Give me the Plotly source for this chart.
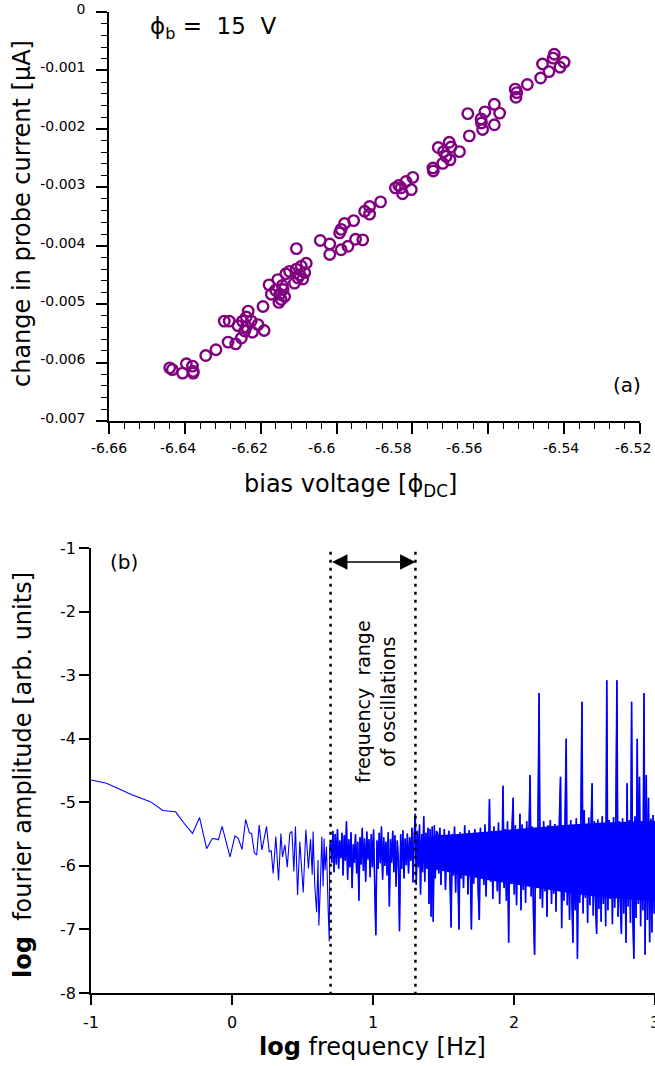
import plotly.graph_objects as go

# ---------------- panel (a) data ----------------
bias_voltage = [
    -6.5426, -6.5429, -6.5400, -6.5457, -6.5411, -6.5440, -6.5462, -6.5497, -6.5529, -6.5525,
    -6.5527, -6.5584, -6.5609, -6.5570, -6.5654, -6.5619, -6.5618, -6.5584, -6.5615, -6.5650,
    -6.5732, -6.5703, -6.5698, -6.5676, -6.5718, -6.5711, -6.5701, -6.5720, -6.5746, -6.5745,
    -6.5799, -6.5817, -6.5836, -6.5845, -6.5830, -6.5803, -6.5826, -6.5884, -6.5913, -6.5926,
    -6.5913, -6.5955, -6.5979, -6.5988, -6.5992, -6.6043, -6.6018, -6.5950, -6.5931, -6.5970,
    -6.5988, -6.6018, -6.6106, -6.6080, -6.6093, -6.6106, -6.6124, -6.6084, -6.6134, -6.6097,
    -6.6102, -6.6089, -6.6111, -6.6155, -6.6143, -6.6178, -6.6161, -6.6141, -6.6172, -6.6150,
    -6.6137, -6.6146, -6.6152, -6.6194, -6.6233, -6.6238, -6.6296, -6.6283, -6.6248, -6.6225,
    -6.6260, -6.6238, -6.6207, -6.6191, -6.6242, -6.6222, -6.6251, -6.6286, -6.6266, -6.6318,
    -6.6345, -6.6380, -6.6396, -6.6406, -6.6378, -6.6433, -6.6440, -6.6378,
]
probe_current = [
    -0.000723, -0.000790, -0.000860, -0.000890, -0.000945, -0.001020, -0.001130, -0.001240, -0.001320, -0.001380,
    -0.001460, -0.001580, -0.001710, -0.001730, -0.001740, -0.001830, -0.001900, -0.001930, -0.002010, -0.002120,
    -0.002320, -0.002230, -0.002310, -0.002390, -0.002390, -0.002470, -0.002530, -0.002590, -0.002670, -0.002720,
    -0.002830, -0.002900, -0.002970, -0.003010, -0.003010, -0.003040, -0.003110, -0.003250, -0.003330, -0.003410,
    -0.003460, -0.003570, -0.003620, -0.003720, -0.003780, -0.003910, -0.003970, -0.003890, -0.003900, -0.004010,
    -0.004070, -0.004150, -0.004050, -0.004300, -0.004350, -0.004400, -0.004440, -0.004460, -0.004480, -0.004500,
    -0.004550, -0.004570, -0.004640, -0.004580, -0.004680, -0.004670, -0.004760, -0.004750, -0.004830, -0.004830,
    -0.004870, -0.004920, -0.004970, -0.005040, -0.005120, -0.005220, -0.005290, -0.005290, -0.005290, -0.005290,
    -0.005370, -0.005390, -0.005350, -0.005450, -0.005460, -0.005480, -0.005580, -0.005650, -0.005680, -0.005780,
    -0.005880, -0.006060, -0.006020, -0.006180, -0.006150, -0.006120, -0.006090, -0.006180,
]
a_xticks = [-6.66, -6.64, -6.62, -6.60, -6.58, -6.56, -6.54, -6.52]
# where the original figure actually printed each x tick label
a_xlabel_pos = [-6.6600, -6.6418, -6.6229, -6.6039, -6.5850, -6.5663, -6.5408, -6.5218]
a_xlabels = ["-6.66", "-6.64", "-6.62", "-6.6", "-6.58", "-6.56", "-6.54", "-6.52"]
a_yticks = [0, -0.001, -0.002, -0.003, -0.004, -0.005, -0.006, -0.007]
a_ylabels = ["0", "-0.001", "-0.002", "-0.003", "-0.004", "-0.005", "-0.006", "-0.007"]

# ---------------- panel (b) data ----------------
log_freq_low = [
    -1.0, -0.89, -0.71, -0.58, -0.49, -0.40, -0.34, -0.28, -0.23, -0.18,
    -0.14, -0.11, -0.097, -0.07, -0.014, 0.021, 0.045, 0.071, 0.097, 0.123,
    0.139, 0.158, 0.175, 0.193, 0.212, 0.226, 0.245, 0.264, 0.278, 0.292,
    0.311, 0.33, 0.347, 0.358, 0.375, 0.392, 0.41, 0.425, 0.439, 0.45,
    0.465, 0.481, 0.505, 0.524, 0.542, 0.557, 0.569, 0.575, 0.587, 0.6,
    0.61, 0.616, 0.627, 0.637, 0.646, 0.653, 0.66, 0.67, 0.682, 0.69, 0.693,
]
log_amp_low = [
    -4.65, -4.70, -4.88, -4.99, -5.13, -5.15, -5.33, -5.49, -5.24, -5.73,
    -5.57, -5.58, -5.59, -5.38, -5.86, -5.53, -5.57, -5.74, -5.27, -5.48,
    -5.49, -5.79, -5.83, -5.36, -5.75, -5.59, -5.38, -5.78, -5.76, -6.12,
    -5.54, -6.23, -5.49, -5.86, -5.67, -6.02, -5.49, -5.46, -6.09, -5.38,
    -6.46, -5.62, -6.42, -5.43, -6.04, -5.58, -6.14, -5.46, -6.31, -6.73,
    -5.91, -6.94, -6.28, -5.54, -6.32, -5.57, -6.07, -5.70, -6.70, -7.19, -5.67,
]
log_freq_mid = [
    0.700, 0.708, 0.716, 0.724, 0.732, 0.740, 0.748, 0.756, 0.764, 0.772,
    0.780, 0.788, 0.796, 0.804, 0.812, 0.820, 0.828, 0.836, 0.844, 0.852,
    0.860, 0.868, 0.876, 0.884, 0.892, 0.900, 0.908, 0.916, 0.924, 0.932,
    0.940, 0.948, 0.956, 0.964, 0.972, 0.980, 0.988, 0.996, 1.004, 1.012,
    1.020, 1.028, 1.036, 1.044, 1.052, 1.060, 1.068, 1.076, 1.084, 1.092,
    1.100, 1.108, 1.116, 1.124, 1.132, 1.140, 1.148, 1.156, 1.164, 1.172,
    1.180, 1.188, 1.196, 1.204, 1.212, 1.220, 1.228, 1.236, 1.244, 1.252,
    1.260, 1.268, 1.276, 1.284, 1.292, 1.300,
    1.307, 1.315, 1.322, 1.330, 1.337, 1.345, 1.352, 1.360, 1.367, 1.375,
    1.382, 1.390, 1.397, 1.405, 1.412, 1.420, 1.427, 1.435, 1.442, 1.450,
]
log_amp_mid = [
    -5.62, -5.95, -5.45, -6.10, -5.50, -5.98, -5.42, -6.05, -5.60, -5.88,
    -5.48, -6.15, -5.52, -5.92, -5.30, -6.22, -5.58, -6.02, -5.47, -6.35,
    -5.66, -5.95, -5.50, -6.12, -5.62, -6.55, -5.55, -5.98, -5.40, -6.08,
    -5.57, -6.25, -5.46, -5.90, -5.58, -6.18, -5.50, -6.02, -5.43, -6.30,
    -7.09, -5.60, -6.05, -5.48, -5.96, -5.38, -6.22, -5.55, -6.00, -5.62,
    -6.15, -5.47, -6.64, -5.58, -5.95, -5.45, -6.10, -5.52, -6.33, -5.60,
    -5.92, -7.03, -5.50, -6.05, -5.44, -6.20, -5.57, -5.99, -5.49, -6.12,
    -5.55, -5.92, -5.40, -6.26, -5.52, -5.18,
    -6.30, -5.45, -6.02, -5.35, -6.45, -5.50, -6.10, -5.22, -6.25, -5.48,
    -6.05, -5.40, -6.60, -5.42, -6.80, -5.38, -6.88, -5.36, -6.20, -5.45,
]
log_freq_high = [
    1.458, 1.466, 1.474, 1.482, 1.490, 1.498, 1.506, 1.514, 1.522, 1.530,
    1.538, 1.546, 1.554, 1.562, 1.570, 1.578, 1.586, 1.594, 1.602, 1.610,
    1.618, 1.626, 1.634, 1.642, 1.650, 1.658, 1.666, 1.674, 1.682, 1.690,
    1.698, 1.706, 1.714, 1.722, 1.730, 1.738, 1.746, 1.754, 1.762, 1.770,
    1.778, 1.786, 1.794, 1.802, 1.810, 1.818, 1.826, 1.834, 1.842, 1.850,
    1.858, 1.866, 1.874, 1.882, 1.890, 1.898, 1.906, 1.914, 1.922, 1.930,
    1.938, 1.946, 1.954, 1.962, 1.970, 1.978, 1.986, 1.994, 2.002, 2.010,
    2.018, 2.026, 2.034, 2.042, 2.050, 2.058, 2.066, 2.074, 2.082, 2.090,
    2.098, 2.106, 2.114, 2.122, 2.130, 2.138, 2.146, 2.154, 2.162, 2.170,
    2.178, 2.186, 2.194, 2.202, 2.210, 2.218, 2.226, 2.234, 2.242, 2.250,
    2.258, 2.266, 2.274, 2.282, 2.290, 2.298, 2.306, 2.314, 2.322, 2.330,
    2.338, 2.346, 2.354, 2.362, 2.370, 2.378, 2.386, 2.394, 2.402, 2.410,
    2.418, 2.426, 2.434, 2.442, 2.450, 2.458, 2.466, 2.474, 2.482, 2.490,
    2.498, 2.506, 2.514, 2.522, 2.530, 2.538, 2.546, 2.554, 2.562, 2.570,
    2.578, 2.586, 2.594, 2.602, 2.610, 2.618, 2.626, 2.634, 2.642, 2.650,
    2.658, 2.666, 2.674, 2.682, 2.690, 2.698, 2.706, 2.714, 2.722, 2.730,
    2.738, 2.746, 2.754, 2.762, 2.770, 2.778, 2.786, 2.794, 2.802, 2.810,
    2.818, 2.826, 2.834, 2.842, 2.850, 2.858, 2.866, 2.874, 2.882, 2.890,
    2.898, 2.906, 2.914, 2.922, 2.930, 2.938, 2.946, 2.954, 2.962, 2.970,
    2.978, 2.986, 2.994, 3.002,
]
log_amp_high = [
    -5.48, -6.12, -5.40, -6.30, -5.55, -6.05, -5.42, -6.38, -5.60, -5.98,
    -5.45, -6.22, -6.97, -5.50, -6.15, -5.38, -6.42, -5.52, -6.08, -7.00,
    -5.47, -6.20, -5.58, -6.35, -5.36, -6.10, -5.62, -6.45, -5.44, -6.02,
    -7.00, -5.50, -6.28, -5.42, -6.12, -5.55, -6.40, -6.85, -5.40, -6.18,
    -5.50, -6.30, -5.35, -6.48, -5.58, -6.05, -4.95, -6.25, -5.45, -6.52,
    -5.38, -6.20, -5.55, -6.40, -5.32, -6.60, -5.48, -6.15, -4.74, -6.35,
    -5.42, -6.55, -5.30, -7.21, -5.52, -6.28, -5.40, -4.93, -6.45, -5.36,
    -6.62, -5.50, -6.20, -5.18, -6.70, -5.35, -6.38, -5.46, -6.58, -5.30,
    -6.30, -5.55, -4.57, -6.48, -5.38, -6.75, -7.40, -5.42, -6.35, -5.33,
    -3.28, -6.52, -5.48, -6.66, -5.30, -6.40, -5.45, -6.80, -5.36, -6.25,
    -5.28, -6.60, -5.50, -6.44, -5.34, -6.72, -5.42, -6.35, -5.27, -4.60,
    -6.98, -5.40, -6.55, -5.32, -4.00, -6.62, -5.38, -6.85, -5.28, -6.48,
    -7.21, -5.36, -6.70, -5.25, -7.46, -5.45, -6.58, -5.30, -3.42, -6.75,
    -5.12, -6.50, -5.35, -6.90, -5.24, -6.62, -5.40, -4.70, -6.78, -5.30,
    -6.55, -7.07, -5.27, -6.68, -5.38, -6.88, -5.22, -6.60, -5.34, -6.95,
    -3.08, -6.70, -5.28, -6.52, -5.36, -6.92, -5.23, -6.66, -5.40, -3.08,
    -6.80, -5.30, -6.58, -7.07, -5.25, -6.75, -5.35, -7.21, -4.70, -6.64,
    -5.28, -6.90, -3.42, -6.72, -7.46, -5.22, -6.82, -4.00, -6.60, -4.60,
    -6.95, -5.30, -6.70, -3.28, -7.40, -4.57, -6.85, -4.93, -7.20, -5.26,
    -7.05, -5.20, -6.75, -5.50,
]
# solid core of the densely sampled part of the spectrum (upper / lower edge)
band_freq = [1.30, 1.38, 1.45, 1.60, 1.80, 2.00, 2.20, 2.40, 2.60, 2.80, 3.00]
band_upper = [-5.62, -5.56, -5.52, -5.50, -5.46, -5.43, -5.39, -5.35, -5.32, -5.30, -5.29]
band_lower = [-5.90, -5.98, -6.06, -6.13, -6.22, -6.29, -6.36, -6.43, -6.49, -6.53, -6.56]

osc_range = [0.699, 1.301]      # log10 of 5 Hz and 20 Hz
b_xticks = [-1, 0, 1, 2, 3]
b_xlabels = ["-1", "0", "1", "2", "3"]
b_yticks = [-1, -2, -3, -4, -5, -6, -7, -8]
b_ylabels = ["-1", "-2", "-3", "-4", "-5", "-6", "-7", "-8"]

W, H = 655, 1066
FONT = "DejaVu Sans"
BLUE = "#0000ff"


def px_x(p):
    return p / W


def px_y(p):
    return 1 - p / H


log_freq = log_freq_low + log_freq_mid + log_freq_high
log_amp = log_amp_low + log_amp_mid + log_amp_high

fig = go.Figure()
fig.add_trace(go.Scatter(
    x=bias_voltage, y=probe_current, mode="markers",
    marker=dict(symbol="circle-open", size=10.5, color="#800080",
                line=dict(width=2.4, color="#800080")),
    xaxis="x", yaxis="y", hoverinfo="skip"))

# dense core of the spectrum
fig.add_trace(go.Scatter(
    x=band_freq + band_freq[::-1], y=band_upper + band_lower[::-1],
    mode="lines", fill="toself", fillcolor=BLUE, line=dict(width=0, color=BLUE),
    xaxis="x2", yaxis="y2", hoverinfo="skip"))

# full spectrum (thin line) plus heavier strokes where the spectrum is dense
fig.add_trace(go.Scatter(
    x=log_freq, y=log_amp, mode="lines",
    line=dict(color=BLUE, width=1.1, simplify=False),
    xaxis="x2", yaxis="y2", hoverinfo="skip"))
fig.add_trace(go.Scatter(
    x=log_freq_mid, y=log_amp_mid, mode="lines",
    line=dict(color=BLUE, width=1.5, simplify=False),
    xaxis="x2", yaxis="y2", hoverinfo="skip"))
fig.add_trace(go.Scatter(
    x=log_freq_high, y=log_amp_high, mode="lines",
    line=dict(color=BLUE, width=1.6, simplify=False),
    xaxis="x2", yaxis="y2", hoverinfo="skip"))

fig.add_trace(go.Scatter(
    x=[osc_range[0], osc_range[0], None, osc_range[1], osc_range[1]],
    y=[-1.06, -8, None, -1.06, -8], mode="lines",
    line=dict(color="black", width=2.5, dash="3px,5px"),
    xaxis="x2", yaxis="y2", hoverinfo="skip"))

axis_common = dict(showgrid=False, zeroline=False, showline=True, linecolor="black",
                   linewidth=1.6, ticks="outside", tickcolor="black", tickwidth=1.6,
                   tickmode="array", color="black", automargin=False,
                   ticklabeloverflow="allow")

fig.update_layout(
    width=W, height=H, margin=dict(l=0, r=0, t=0, b=0, pad=0, autoexpand=False),
    paper_bgcolor="white", plot_bgcolor="white", showlegend=False,
    font=dict(family=FONT, color="black"),
    xaxis=dict(axis_common, domain=[px_x(109), px_x(640)], range=[-6.66, -6.52],
               anchor="y", tickvals=a_xticks, showticklabels=False, ticklen=11,
               minor=dict(ticks="outside", ticklen=6, tickwidth=1.4, tickcolor="black",
                          tickmode="linear", tick0=-6.66, dtick=0.004, showgrid=False)),
    xaxis3=dict(overlaying="x", anchor="y", side="bottom", range=[-6.66, -6.52],
                showgrid=False, zeroline=False, showline=False, ticks="",
                tickmode="array", tickvals=a_xlabel_pos, ticktext=a_xlabels,
                tickfont=dict(size=14, family=FONT, color="black"),
                ticklabelstandoff=17, automargin=False, ticklabeloverflow="allow"),
    yaxis=dict(axis_common, domain=[px_y(421), px_y(12)], range=[-0.007, 0],
               anchor="x", tickvals=a_yticks, ticktext=a_ylabels, ticklen=11,
               tickfont=dict(size=14, family=FONT), ticklabelstandoff=8,
               ticklabelshift=-3,
               minor=dict(ticks="outside", ticklen=6, tickwidth=1.4, tickcolor="black",
                          tickmode="linear", tick0=-0.007, dtick=0.0002, showgrid=False)),
    xaxis2=dict(axis_common, domain=[px_x(91), 1.0], range=[-1, 3], anchor="y2",
                tickvals=b_xticks, ticktext=b_xlabels, ticklen=10,
                tickfont=dict(size=16, family=FONT), ticklabelstandoff=4),
    yaxis2=dict(axis_common, domain=[px_y(993), px_y(548)], range=[-8, -1], anchor="x2",
                tickvals=b_yticks, ticktext=b_ylabels, ticklen=10,
                tickfont=dict(size=16, family=FONT)),
)

# invisible helper so the label-only axis is drawn
fig.add_trace(go.Scatter(x=[a_xticks[0]], y=[a_yticks[0]], mode="markers",
                         marker=dict(opacity=0), xaxis="x3", yaxis="y",
                         hoverinfo="skip"))

annos = [
    dict(text="change in probe current [μA]", x=px_x(22), y=px_y(214), textangle=-90,
         font=dict(size=24)),
    dict(text="bias voltage [ϕ<sub>DC</sub>]", x=px_x(350), y=px_y(485), font=dict(size=24)),
    dict(text="ϕ<sub>b</sub> =  15  V", x=px_x(213), y=px_y(28), font=dict(size=23)),
    dict(text="(a)", x=px_x(627), y=px_y(385), font=dict(size=20)),
    dict(text="(b)", x=px_x(124), y=px_y(562), font=dict(size=20)),
    dict(text="<b>log</b>  fourier amplitude [arb. units]", x=px_x(23), y=px_y(775),
         textangle=-90, font=dict(size=24)),
    dict(text="<b>log</b> frequency [Hz]", x=px_x(372), y=px_y(1047), font=dict(size=24)),
    dict(text="frequency  range<br>of oscillations", x=px_x(375), y=px_y(701),
         textangle=-90, font=dict(size=19)),
]
for a in annos:
    fig.add_annotation(xref="paper", yref="paper", showarrow=False,
                       xanchor="center", yanchor="middle", **a)

fig.add_annotation(x=osc_range[1], y=-1.22, ax=osc_range[0], ay=-1.22,
                   xref="x2", yref="y2", axref="x2", ayref="y2", text="",
                   showarrow=True, arrowhead=2, arrowside="end+start",
                   arrowsize=2.2, arrowwidth=1.4, arrowcolor="black",
                   standoff=0, startstandoff=0)

fig.write_html("out.html")
